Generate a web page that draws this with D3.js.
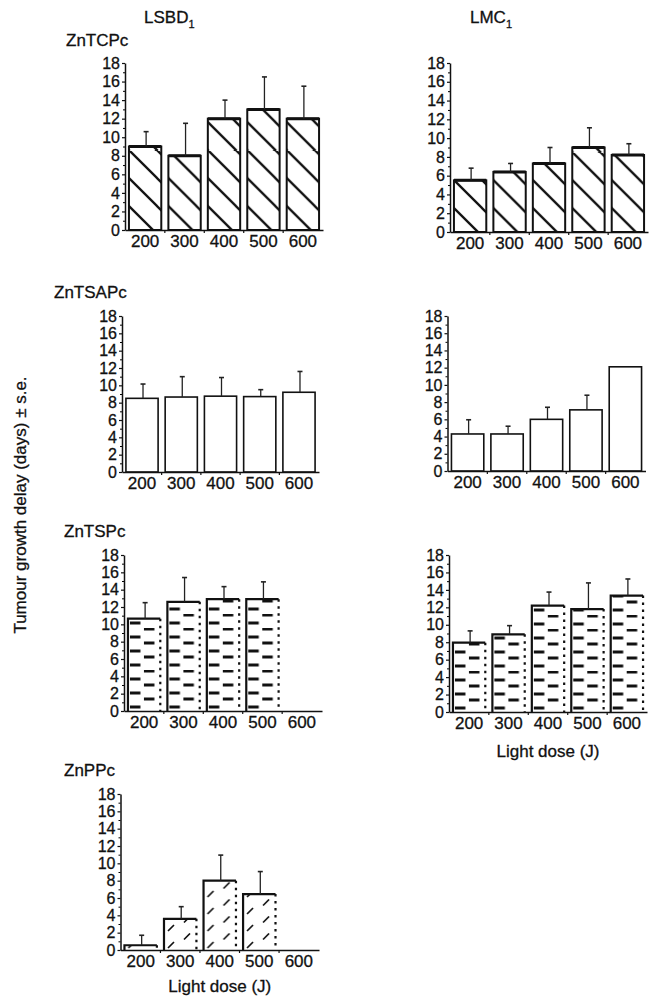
<!DOCTYPE html>
<html>
<head>
<meta charset="utf-8">
<script src="https://cdn.jsdelivr.net/npm/d3@7/dist/d3.min.js"></script>
<style>
  body { margin: 0; background: #fff; }
  text { font-family: "Liberation Sans", Arial, Helvetica, sans-serif; fill: #111; stroke: #111; stroke-width: 0.3px; }
</style>
</head>
<body>
<script>
var doses = ["200", "300", "400", "500", "600"];
var yTicks = [0, 2, 4, 6, 8, 10, 12, 14, 16, 18];

// mean delay (days) and s.e.
var lsbdTCPc = [9.0, 8.0, 12.0, 13.0, 12.0];
var lsbdTCPcSE = [1.6, 3.5, 2.0, 3.5, 3.5];
var lmcTCPc = [5.5, 6.4, 7.3, 9.0, 8.2];
var lmcTCPcSE = [1.3, 0.9, 1.7, 2.1, 1.2];

var lsbdTSAPc = [8.5, 8.65, 8.75, 8.7, 9.2];
var lsbdTSAPcSE = [1.65, 2.35, 2.15, 0.8, 2.4];
var lmcTSAPc = [4.3, 4.3, 6.0, 7.1, 12.1];
var lmcTSAPcSE = [1.65, 0.9, 1.4, 1.7, null];

var lsbdTSPc = [10.65, 12.6, 12.9, 12.9, null];
var lsbdTSPcSE = [1.85, 2.8, 1.45, 2.0, null];
var lmcTSPc = [7.95, 8.9, 12.2, 11.8, 13.35];
var lmcTSPcSE = [1.35, 1.0, 1.55, 3.0, 1.9];

var lsbdPPc = [0.55, 3.6, 8.0, 6.45, null];
var lsbdPPcSE = [1.15, 1.4, 2.95, 2.6, null];

var W = 659, H = 997;
var svg = d3.select("body").append("svg")
    .attr("width", W).attr("height", H);

var defs = svg.append("defs");

// backslash hatch
var s = 28;
var p1 = defs.append("pattern").attr("id", "hatch")
    .attr("patternUnits", "userSpaceOnUse")
    .attr("width", s).attr("height", s).attr("y", 4);
p1.append("path")
    .attr("d", "M-2,-2L" + (s + 2) + "," + (s + 2) + "M" + (s - 3) + ",-3L" + (s + 3) + ",3M-3," + (s - 3) + "L3," + (s + 3))
    .attr("stroke", "#111").attr("stroke-width", 2.3);

// staggered horizontal dashes
var p2 = defs.append("pattern").attr("id", "dashes")
    .attr("patternUnits", "userSpaceOnUse")
    .attr("width", 60).attr("height", 14);
p2.append("rect").attr("x", 2).attr("y", 8.5).attr("width", 10.5).attr("height", 3).attr("fill", "#111");
p2.append("rect").attr("x", 16).attr("y", 0.5).attr("width", 10.5).attr("height", 3).attr("fill", "#111");

// staggered short slashes
var p3 = defs.append("pattern").attr("id", "slashes")
    .attr("patternUnits", "userSpaceOnUse")
    .attr("width", 60).attr("height", 17);
p3.append("path")
    .attr("d", "M4,15L10,9M20,6.5L26,0.5")
    .attr("stroke", "#111").attr("stroke-width", 1.7);

var panels = [
  {title: "ZnTCPc", tx: 66, ty: 46, v: lsbdTCPc, se: lsbdTCPcSE, fill: "hatch", x0: 125, x1: 323, y0: 230, y18: 63},
  {title: null, v: lmcTCPc, se: lmcTCPcSE, fill: "hatch", x0: 450, x1: 648, y0: 232, y18: 63},
  {title: "ZnTSAPc", tx: 54, ty: 298, v: lsbdTSAPc, se: lsbdTSAPcSE, fill: "none", x0: 122, x1: 319, y0: 472, y18: 316},
  {title: null, v: lmcTSAPc, se: lmcTSAPcSE, fill: "none", x0: 447.5, x1: 645.5, y0: 471, y18: 316},
  {title: "ZnTSPc", tx: 64, ty: 537, v: lsbdTSPc, se: lsbdTSPcSE, fill: "dashes", x0: 124, x1: 322, y0: 711, y18: 555},
  {title: null, v: lmcTSPc, se: lmcTSPcSE, fill: "dashes", x0: 449, x1: 647, y0: 712, y18: 555, xlabel: 45},
  {title: "ZnPPc", tx: 64, ty: 776, v: lsbdPPc, se: lsbdPPcSE, fill: "slashes", x0: 120.5, x1: 319, y0: 950, y18: 794, xlabel: 42}
];

panels.forEach(function(p) {
  var x = d3.scaleBand().domain(doses).range([p.x0, p.x1])
      .paddingInner(0.18).paddingOuter(0.1);
  var y = d3.scaleLinear().domain([0, 18]).range([p.y0, p.y18]);
  var g = svg.append("g");

  if (p.title) {
    g.append("text").attr("x", p.tx).attr("y", p.ty)
      .attr("font-size", 17).text(p.title);
  }

  // bars
  var bw = x.bandwidth();
  doses.forEach(function(d, i) {
    var v = p.v[i];
    if (v == null) return;
    var h = p.y0 - y(v);
    var bg = g.append("g").attr("transform", "translate(" + x(d) + "," + p.y0 + ")");
    bg.append("rect")
      .attr("x", 0).attr("y", -h).attr("width", bw).attr("height", h)
      .attr("fill", p.fill == "none" ? "#fff" : "url(#" + p.fill + ")");
    if (p.fill == "hatch" || p.fill == "none") {
      bg.append("rect")
        .attr("x", 0).attr("y", -h).attr("width", bw).attr("height", h)
        .attr("fill", "none").attr("stroke", "#111")
        .attr("stroke-width", p.fill == "hatch" ? 2 : 1.6);
      if (p.fill == "hatch") {
        bg.append("line").attr("x1", 0).attr("x2", bw).attr("y1", -h).attr("y2", -h)
          .attr("stroke", "#111").attr("stroke-width", 3);
      }
    } else {
      bg.append("path")
        .attr("d", "M0,0V" + (-h) + "H" + bw)
        .attr("fill", "none").attr("stroke", "#111").attr("stroke-width", 2.2);
      bg.append("line").attr("x1", bw).attr("x2", bw).attr("y1", -h).attr("y2", 0)
        .attr("stroke", "#111").attr("stroke-width", 2.2)
        .attr("stroke-dasharray", "2.5,4.5");
    }
  });

  // error bars
  doses.forEach(function(d, i) {
    var v = p.v[i], e = p.se[i];
    if (v == null || e == null) return;
    var cx = x(d) + bw / 2 + 1;
    g.append("line").attr("x1", cx).attr("x2", cx)
      .attr("y1", y(v)).attr("y2", y(v + e))
      .attr("stroke", "#222").attr("stroke-width", 1.3);
    g.append("line").attr("x1", cx - 2.5).attr("x2", cx + 2.5)
      .attr("y1", y(v + e)).attr("y2", y(v + e))
      .attr("stroke", "#222").attr("stroke-width", 1.6);
  });

  // y axis
  var ya = g.append("g").attr("transform", "translate(" + p.x0 + ",0)")
      .call(d3.axisLeft(y).tickValues(yTicks).tickSize(3).tickSizeOuter(0).tickPadding(2));
  g.append("g").attr("transform", "translate(" + p.x0 + ",0)")
      .call(d3.axisLeft(y).tickValues(d3.range(1, 18, 2)).tickSize(2).tickSizeOuter(0).tickFormat(""))
      .select(".domain").remove();

  // x axis
  var xa = g.append("g").attr("transform", "translate(0," + p.y0 + ")")
      .call(d3.axisBottom(x).tickSize(0).tickSizeOuter(0).tickPadding(5));
  var step = x.step();
  doses.slice(1).forEach(function(d) {
    var bx = x(d) - step * 0.09;
    g.append("line").attr("x1", bx).attr("x2", bx)
      .attr("y1", p.y0).attr("y2", p.y0 + 3)
      .attr("stroke", "#111").attr("stroke-width", 1.2);
  });

  [ya, xa].forEach(function(a) {
    a.select(".domain").attr("stroke", "#111").attr("stroke-width", 1.5);
    a.selectAll(".tick line").attr("stroke", "#111").attr("stroke-width", 1.2);
    a.selectAll(".tick text").attr("fill", "#111")
      .style("font-family", "'Liberation Sans', Arial, sans-serif")
      .style("stroke", "#111").style("stroke-width", "0.3px");
  });
  ya.selectAll(".tick text").attr("font-size", 16);
  xa.selectAll(".tick text").attr("font-size", 17);

  if (p.xlabel) {
    g.append("text").attr("x", (p.x0 + p.x1) / 2).attr("y", p.y0 + p.xlabel)
      .attr("text-anchor", "middle").attr("font-size", 17)
      .text("Light dose (J)");
  }
});

// column headers
var h1 = svg.append("text").attr("x", 144).attr("y", 23).attr("font-size", 17);
h1.append("tspan").text("LSBD");
h1.append("tspan").attr("font-size", 11).attr("dy", 5).text("1");
var h2 = svg.append("text").attr("x", 470).attr("y", 23).attr("font-size", 17);
h2.append("tspan").text("LMC");
h2.append("tspan").attr("font-size", 11).attr("dy", 5).text("1");

// y axis title
svg.append("text")
  .attr("transform", "translate(26,505) rotate(-90)")
  .attr("text-anchor", "middle").attr("font-size", 17)
  .text("Tumour growth delay (days) \u00b1 s.e.");
</script>
</body>
</html>
